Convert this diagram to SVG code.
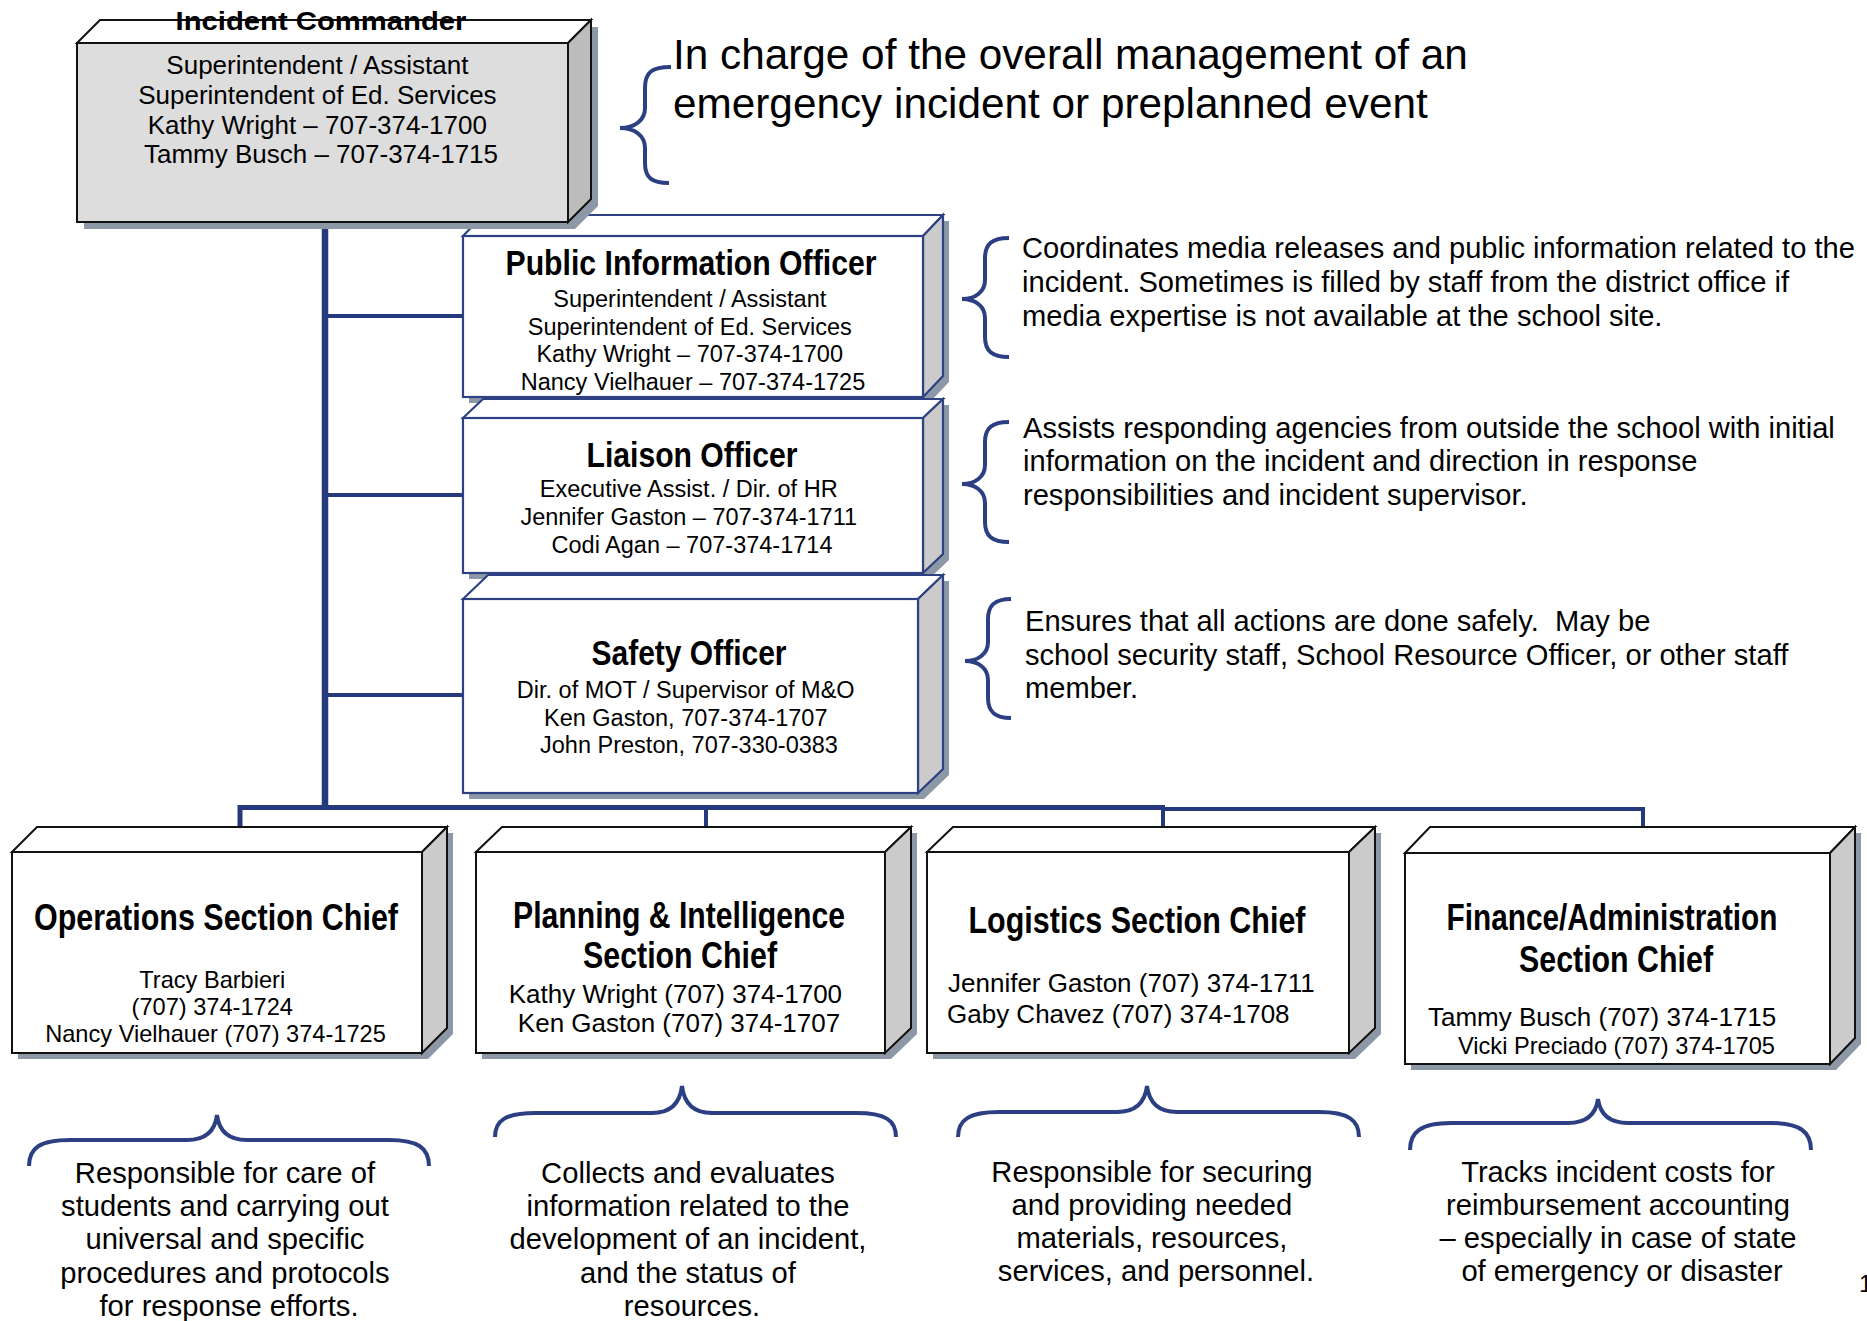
<svg xmlns="http://www.w3.org/2000/svg" width="1867" height="1321" viewBox="0 0 1867 1321">
  <style>
    .shadow { fill: #8c98a5; }
    .face-front { fill: #ffffff; }
    .face-top { fill: #ffffff; }
    .face-side { fill: #cbcbcb; }
    .edge-dark { stroke: #111111; stroke-width: 2; stroke-linejoin: miter; }
    .edge-navy { stroke: #2e4183; stroke-width: 2.2; stroke-linejoin: miter; }
    .ic-front { fill: #dddddd; }
    .ic-side { fill: #bcbcbc; }
    .link { stroke: #253a7c; fill: none; stroke-linecap: butt; }
    .brace { stroke: #2b3f82; stroke-width: 4; fill: none; stroke-linecap: butt; }
    text { font-family: "Liberation Sans", Arial, sans-serif; fill: #000000; }
    .title-narrow { font-family: "Liberation Sans Narrow", "Liberation Sans", Arial, sans-serif; font-weight: bold; text-anchor: middle; }
    .ic-title { font-weight: bold; font-size: 26px; text-anchor: middle; }
    .body { text-anchor: middle; }
    .note { font-size: 29.1px; }
    .note-big { font-size: 42.3px; }
    .bottom-note { font-size: 29.2px; text-anchor: middle; }
  </style>

  <!-- reporting lines -->
  <g id="connectors">
    <line class="link" x1="325" y1="222" x2="325" y2="810" stroke-width="6.5"/>
    <line class="link" x1="325" y1="316" x2="463" y2="316" stroke-width="4"/>
    <line class="link" x1="325" y1="495" x2="463" y2="495" stroke-width="4"/>
    <line class="link" x1="325" y1="695" x2="463" y2="695" stroke-width="4"/>
    <polyline class="link" points="240,827 240,807.5 1163,807.5" stroke-width="5"/>
    <line class="link" x1="706" y1="807" x2="706" y2="827" stroke-width="4"/>
    <line class="link" x1="1163" y1="805" x2="1163" y2="827" stroke-width="4"/>
    <polyline class="link" points="1163,809 1643,809 1643,827" stroke-width="4"/>
  </g>

  <!-- Public Information Officer -->
  <g id="pio">
    <polygon class="shadow" points="469,242 489,221 949,221 949,382 929,403 469,403"/>
    <polygon class="face-top edge-navy" points="463,236 483,215 943,215 923,236"/>
    <polygon class="face-side edge-navy" points="923,236 943,215 943,376 923,397"/>
    <rect class="face-front edge-navy" x="463" y="236" width="460" height="161"/>
    <text class="title-narrow" x="691" y="275" font-size="35" textLength="371" lengthAdjust="spacingAndGlyphs">Public Information Officer</text>
    <text class="body" font-size="23.5">
      <tspan x="693" y="307">Superintendent / Assistant</tspan>
      <tspan x="693" y="335">Superintendent of Ed. Services</tspan>
      <tspan x="693" y="362">Kathy Wright – 707-374-1700</tspan>
      <tspan x="693" y="390">Nancy Vielhauer – 707-374-1725</tspan>
    </text>
  </g>

  <!-- Liaison Officer -->
  <g id="liaison">
    <polygon class="shadow" points="469,424 489,405 949,405 949,560 929,579 469,579"/>
    <polygon class="face-top edge-navy" points="463,418 483,399 943,399 923,418"/>
    <polygon class="face-side edge-navy" points="923,418 943,399 943,554 923,573"/>
    <rect class="face-front edge-navy" x="463" y="418" width="460" height="155"/>
    <text class="title-narrow" x="692" y="467" font-size="35" textLength="211" lengthAdjust="spacingAndGlyphs">Liaison Officer</text>
    <text class="body" font-size="23.5">
      <tspan x="692" y="497">Executive Assist. / Dir. of HR</tspan>
      <tspan x="692" y="525">Jennifer Gaston – 707-374-1711</tspan>
      <tspan x="692" y="553">Codi Agan – 707-374-1714</tspan>
    </text>
  </g>

  <!-- Safety Officer -->
  <g id="safety">
    <polygon class="shadow" points="469,605 494,581 949,581 949,775 924,799 469,799"/>
    <polygon class="face-top edge-navy" points="463,599 488,575 943,575 918,599"/>
    <polygon class="face-side edge-navy" points="918,599 943,575 943,769 918,793"/>
    <rect class="face-front edge-navy" x="463" y="599" width="455" height="194"/>
    <text class="title-narrow" x="689" y="665" font-size="35" textLength="195" lengthAdjust="spacingAndGlyphs">Safety Officer</text>
    <text class="body" font-size="23.5">
      <tspan x="689" y="698">Dir. of MOT / Supervisor of M&amp;O</tspan>
      <tspan x="689" y="726">Ken Gaston, 707-374-1707</tspan>
      <tspan x="689" y="753">John Preston, 707-330-0383</tspan>
    </text>
  </g>

  <!-- Incident Commander -->
  <g id="incident-commander">
    <polygon class="shadow" points="84,50 107,27 598,27 598,206 575,229 84,229"/>
    <polygon class="face-top edge-dark" points="77,43 100,20 591,20 568,43"/>
    <polygon class="ic-side edge-dark" points="568,43 591,20 591,199 568,222"/>
    <rect class="ic-front edge-dark" x="77" y="43" width="491" height="179"/>
    <text class="ic-title" x="321" y="30" textLength="291" lengthAdjust="spacingAndGlyphs">Incident Commander</text>
    <text class="body" font-size="26">
      <tspan x="321" y="74">Superintendent / Assistant</tspan>
      <tspan x="321" y="104">Superintendent of Ed. Services</tspan>
      <tspan x="321" y="134">Kathy Wright – 707-374-1700</tspan>
      <tspan x="321" y="163">Tammy Busch – 707-374-1715</tspan>
    </text>
  </g>

  <!-- Operations Section Chief -->
  <g id="operations">
    <polygon class="shadow" points="18,858 43,833 453,833 453,1034 428,1059 18,1059"/>
    <polygon class="face-top edge-dark" points="12,852 37,827 447,827 422,852"/>
    <polygon class="face-side edge-dark" points="422,852 447,827 447,1028 422,1053"/>
    <rect class="face-front edge-dark" x="12" y="852" width="410" height="201"/>
    <text class="title-narrow" x="216" y="930" font-size="37" textLength="364" lengthAdjust="spacingAndGlyphs">Operations Section Chief</text>
    <text class="body" font-size="23.6">
      <tspan x="215.5" y="988">Tracy Barbieri</tspan>
      <tspan x="215.5" y="1015">(707) 374-1724</tspan>
      <tspan x="215.5" y="1042">Nancy Vielhauer (707) 374-1725</tspan>
    </text>
  </g>

  <!-- Planning & Intelligence Section Chief -->
  <g id="planning">
    <polygon class="shadow" points="482,858 508,833 917,833 917,1034 891,1059 482,1059"/>
    <polygon class="face-top edge-dark" points="476,852 502,827 911,827 885,852"/>
    <polygon class="face-side edge-dark" points="885,852 911,827 911,1028 885,1053"/>
    <rect class="face-front edge-dark" x="476" y="852" width="409" height="201"/>
    <text class="title-narrow" x="679" y="928" font-size="37" textLength="332" lengthAdjust="spacingAndGlyphs">Planning &amp; Intelligence</text>
    <text class="title-narrow" x="680" y="968" font-size="37" textLength="194" lengthAdjust="spacingAndGlyphs">Section Chief</text>
    <text class="body" font-size="26">
      <tspan x="679" y="1003">Kathy Wright (707) 374-1700</tspan>
      <tspan x="679" y="1032">Ken Gaston (707) 374-1707</tspan>
    </text>
  </g>

  <!-- Logistics Section Chief -->
  <g id="logistics">
    <polygon class="shadow" points="933,858 959,833 1381,833 1381,1034 1355,1059 933,1059"/>
    <polygon class="face-top edge-dark" points="927,852 953,827 1375,827 1349,852"/>
    <polygon class="face-side edge-dark" points="1349,852 1375,827 1375,1028 1349,1053"/>
    <rect class="face-front edge-dark" x="927" y="852" width="422" height="201"/>
    <text class="title-narrow" x="1137" y="933" font-size="37" textLength="337" lengthAdjust="spacingAndGlyphs">Logistics Section Chief</text>
    <text font-size="26">
      <tspan x="948" y="992">Jennifer Gaston (707) 374-1711</tspan>
      <tspan x="947" y="1023">Gaby Chavez (707) 374-1708</tspan>
    </text>
  </g>

  <!-- Finance/Administration Section Chief -->
  <g id="finance">
    <polygon class="shadow" points="1411,859 1436,833 1861,833 1861,1044 1836,1070 1411,1070"/>
    <polygon class="face-top edge-dark" points="1405,853 1430,827 1855,827 1830,853"/>
    <polygon class="face-side edge-dark" points="1830,853 1855,827 1855,1038 1830,1064"/>
    <rect class="face-front edge-dark" x="1405" y="853" width="425" height="211"/>
    <text class="title-narrow" x="1612" y="930" font-size="37" textLength="331" lengthAdjust="spacingAndGlyphs">Finance/Administration</text>
    <text class="title-narrow" x="1616" y="972" font-size="37" textLength="194" lengthAdjust="spacingAndGlyphs">Section Chief</text>
    <text font-size="26" x="1428" y="1026">Tammy Busch (707) 374-1715</text>
    <text font-size="23.6" x="1458" y="1054">Vicki Preciado (707) 374-1705</text>
  </g>

  <!-- role descriptions, right side -->
  <g id="note-incident-commander">
    <path class="brace" d="M671,67 C652,67 645,72 645,88 L645,108 C645,120 635,128 620,128 C635,128 645,136 645,148 L645,163 C645,178 652,183 669,183"/>
    <text class="note-big">
      <tspan x="673" y="69">In charge of the overall management of an</tspan>
      <tspan x="673" y="118">emergency incident or preplanned event</tspan>
    </text>
  </g>
  <g id="note-pio">
    <path class="brace" d="M1009,238 C992,238 985,244 985,258 L985,280 C985,292 975,299 962,299 C975,299 985,306 985,318 L985,337 C985,351 992,357 1009,357"/>
    <text class="note">
      <tspan x="1022" y="258">Coordinates media releases and public information related to the</tspan>
      <tspan x="1022" y="292">incident. Sometimes is filled by staff from the district office if</tspan>
      <tspan x="1022" y="326">media expertise is not available at the school site.</tspan>
    </text>
  </g>
  <g id="note-liaison">
    <path class="brace" d="M1009,422 C992,422 985,428 985,442 L985,465 C985,477 975,484 962,484 C975,484 985,491 985,503 L985,522 C985,536 992,542 1009,542"/>
    <text class="note">
      <tspan x="1023" y="438">Assists responding agencies from outside the school with initial</tspan>
      <tspan x="1023" y="471">information on the incident and direction in response</tspan>
      <tspan x="1023" y="505">responsibilities and incident supervisor.</tspan>
    </text>
  </g>
  <g id="note-safety">
    <path class="brace" d="M1011,599 C995,599 988,605 988,619 L988,642 C988,654 978,661 965,661 C978,661 988,668 988,680 L988,698 C988,712 995,718 1011,718"/>
    <text class="note">
      <tspan x="1025" y="631">Ensures that all actions are done safely.&#160; May be</tspan>
      <tspan x="1025" y="665">school security staff, School Resource Officer, or other staff</tspan>
      <tspan x="1025" y="698">member.</tspan>
    </text>
  </g>

  <!-- role descriptions, under the section chiefs -->
  <g id="note-operations">
    <path class="brace" d="M29,1166 C29,1148 40,1140 70,1140 L187,1140 C206,1140 215,1131 217,1115 C219,1131 228,1140 247,1140 L389,1140 C418,1140 429,1148 429,1166"/>
    <text class="bottom-note">
      <tspan x="229" y="1183">Responsible for care of</tspan>
      <tspan x="229" y="1216">students and carrying out</tspan>
      <tspan x="229" y="1249">universal and specific</tspan>
      <tspan x="229" y="1283">procedures and protocols</tspan>
      <tspan x="229" y="1316">for response efforts.</tspan>
    </text>
  </g>
  <g id="note-planning">
    <path class="brace" d="M495,1137 C495,1120 506,1113 536,1113 L652,1113 C671,1113 680,1103 682,1086 C684,1103 693,1113 712,1113 L856,1113 C885,1113 896,1120 896,1137"/>
    <text class="bottom-note">
      <tspan x="692" y="1183">Collects and evaluates</tspan>
      <tspan x="692" y="1216">information related to the</tspan>
      <tspan x="692" y="1249">development of an incident,</tspan>
      <tspan x="692" y="1283">and the status of</tspan>
      <tspan x="692" y="1316">resources.</tspan>
    </text>
  </g>
  <g id="note-logistics">
    <path class="brace" d="M958,1137 C958,1120 969,1112 999,1112 L1117,1112 C1136,1112 1145,1102 1147,1086 C1149,1102 1158,1112 1177,1112 L1319,1112 C1348,1112 1359,1120 1359,1137"/>
    <text class="bottom-note">
      <tspan x="1156" y="1182">Responsible for securing</tspan>
      <tspan x="1156" y="1215">and providing needed</tspan>
      <tspan x="1156" y="1248">materials, resources,</tspan>
      <tspan x="1156" y="1281">services, and personnel.</tspan>
    </text>
  </g>
  <g id="note-finance">
    <path class="brace" d="M1410,1150 C1410,1132 1421,1123 1451,1123 L1568,1123 C1587,1123 1596,1114 1598,1099 C1600,1114 1609,1123 1628,1123 L1771,1123 C1800,1123 1811,1132 1811,1150"/>
    <text class="bottom-note">
      <tspan x="1622" y="1182">Tracks incident costs for</tspan>
      <tspan x="1622" y="1215">reimbursement accounting</tspan>
      <tspan x="1622" y="1248">– especially in case of state</tspan>
      <tspan x="1622" y="1281">of emergency or disaster</tspan>
    </text>
  </g>

  <!-- page number at the edge -->
  <text x="1859" y="1292" font-size="24">1</text>
</svg>
